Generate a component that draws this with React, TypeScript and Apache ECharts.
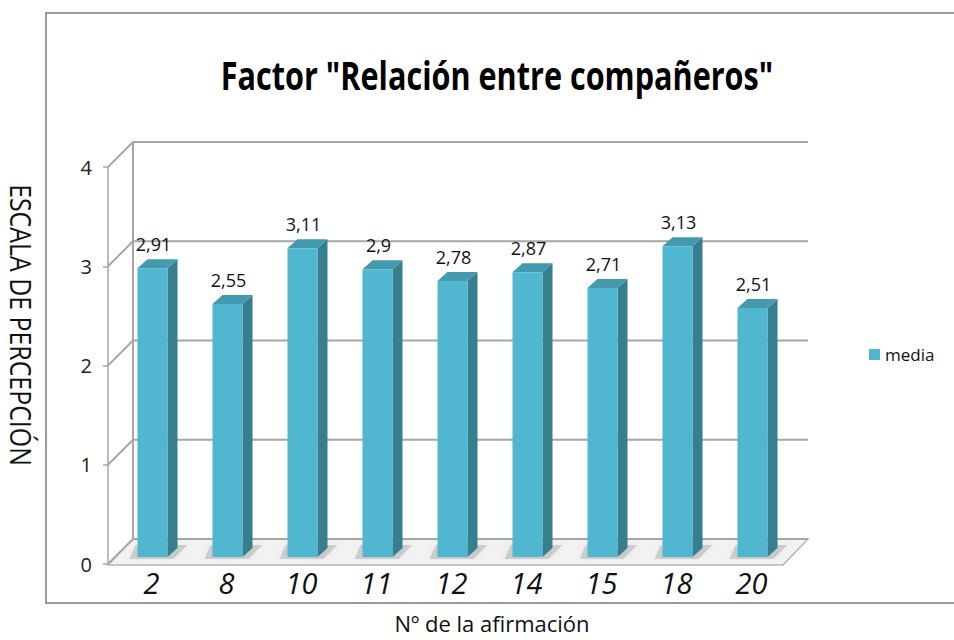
import React, { useEffect, useRef } from "react";
import * as echarts from "echarts";

const categories = ["2", "8", "10", "11", "12", "14", "15", "18", "20"];
const media = [2.91, 2.55, 3.11, 2.9, 2.78, 2.87, 2.71, 3.13, 2.51];
const yTicks = [0, 1, 2, 3, 4];
const seriesName = "media";
const titleText = 'Factor "Relación entre compañeros"';
const yName = "ESCALA DE PERCEPCIÓN";
const xName = "Nº de la afirmación";

const DEPTH = 25;
const BAR_OFF = 7;
const BAR_DEPTH = 10;
const GRID_COLOR = "#a6a6a6";
const FRONT = "#51b6cf";
const SIDE = "#367f8f";
const TOP = "#4399ae";

const fmt = (v: number) => String(v).replace(".", ",");

export default function App() {
  const ref = useRef<HTMLDivElement>(null);
  useEffect(() => {
    document.body.style.margin = "0";
    if (!ref.current) return;
    const chart = echarts.init(ref.current, undefined, { renderer: "svg" });
    const yMax = yTicks[yTicks.length - 1];

    const floorRender = (params: any, api: any) => {
      const cs = params.coordSys;
      const y0 = api.coord([0, 0])[1];
      const x0 = cs.x, x1 = cs.x + cs.width;
      return {
        type: "polygon",
        shape: { points: [[x0, y0 + 1], [x1, y0 + 1], [x1 + DEPTH, y0 - DEPTH], [x0 + DEPTH, y0 - DEPTH]] },
        style: { fill: "#f2f2f2", stroke: "#b5b5b5", lineWidth: 1.5 },
      };
    };

    const wallRender = (params: any, api: any) => {
      const cs = params.coordSys;
      const v = api.value(1);
      const y = api.coord([0, v])[1];
      const x0 = cs.x, x1 = cs.x + cs.width;
      const st = { stroke: GRID_COLOR, lineWidth: 2 };
      const children: any[] = [
        { type: "line", shape: { x1: x0, y1: y, x2: x0 + DEPTH, y2: y - DEPTH }, style: st },
        { type: "line", shape: { x1: x0 + DEPTH, y1: y - DEPTH, x2: x1 + DEPTH, y2: y - DEPTH }, style: st },
      ];
      if (v === 0) {
        const yTop = api.coord([0, yMax])[1];
        children.push({ type: "line", shape: { x1: x0 + DEPTH, y1: y - DEPTH, x2: x0 + DEPTH, y2: yTop - DEPTH }, style: st });
      }
      return { type: "group", children };
    };

    const barRender = (params: any, api: any) => {
      const i = api.value(0);
      const v = api.value(1);
      const [cx, yTop] = api.coord([i, v]);
      const yBase = api.coord([i, 0])[1];
      const band = api.size([1, 0])[0];
      const w = band * 0.4;
      const x = cx + BAR_OFF - w / 2;
      const yt = yTop - BAR_OFF;
      const yb = yBase - BAR_OFF;
      const d = BAR_DEPTH;
      const dy = BAR_DEPTH - 1;
      return {
        type: "group",
        children: [
          {
            type: "polygon",
            shape: { points: [[x - 8, yb + 2], [x + w + 6, yb + 2], [x + w + d + 10, yb - dy - 3], [x - 2, yb - dy - 3]] },
            style: { fill: "rgba(0,0,0,0.14)", shadowBlur: 8, shadowColor: "rgba(0,0,0,0.25)" },
          },
          {
            type: "polygon",
            shape: { points: [[x + w, yt], [x + w + d, yt - dy], [x + w + d, yb - dy], [x + w, yb]] },
            style: { fill: SIDE },
          },
          {
            type: "polygon",
            shape: { points: [[x, yt], [x + d, yt - dy], [x + w + d, yt - dy], [x + w, yt]] },
            style: { fill: TOP },
          },
          { type: "rect", shape: { x, y: yt, width: w, height: yb - yt }, style: { fill: FRONT } },
          {
            type: "text",
            x: x + w / 2 + 1,
            y: yt - dy - 6,
            style: {
              text: fmt(v),
              fontFamily: "Open Sans",
              fontSize: 18,
              fill: "#111",
              align: "center",
              verticalAlign: "bottom",
            },
          },
        ],
      };
    };

    chart.setOption({
      animation: false,
      backgroundColor: "#ffffff",
      grid: { left: 108, top: 167, width: 675, height: 397, containLabel: false },
      legend: {
        data: [{ name: seriesName, icon: "rect" }],
        left: 864,
        top: 341,
        itemWidth: 11,
        itemHeight: 11,
        itemGap: 6,
        textStyle: { fontFamily: "Open Sans", fontSize: 17, color: "#111" },
      },
      xAxis: {
        type: "category",
        data: categories,
        boundaryGap: true,
        axisLine: { show: false },
        axisTick: { show: false },
        splitLine: { show: false },
        axisLabel: {
          fontFamily: "Open Sans",
          fontStyle: "italic",
          fontSize: 29,
          color: "#111",
          margin: 4,
          padding: [0, 0, 0, 12],
        },
      },
      yAxis: {
        type: "value",
        min: 0,
        max: 4,
        interval: 1,
        axisLine: { show: true, lineStyle: { color: GRID_COLOR, width: 1.5 } },
        axisTick: { show: true, length: 5, lineStyle: { color: GRID_COLOR, width: 1.5 } },
        splitLine: { show: false },
        axisLabel: { fontFamily: "Open Sans", fontSize: 20, color: "#222", margin: 16 },
      },
      graphic: [
        {
          type: "rect",
          shape: { x: 46, y: 13, width: 960, height: 590 },
          style: { fill: "none", stroke: "#9a9a9a", lineWidth: 2 },
          z: 0,
        },
        {
          type: "text",
          x: 497,
          y: 75,
          scaleX: 0.785,
          style: {
            text: titleText,
            fontFamily: "Open Sans",
            fontWeight: "bold",
            fontSize: 39,
            fill: "#000",
            align: "center",
            verticalAlign: "middle",
          },
        },
        {
          type: "text",
          x: 21,
          y: 325,
          rotation: -Math.PI / 2,
          scaleX: 0.83,
          style: {
            text: yName,
            fontFamily: "Open Sans",
            fontSize: 30,
            fill: "#111",
            align: "center",
            verticalAlign: "middle",
          },
        },
        {
          type: "text",
          x: 492,
          y: 623,
          style: {
            text: xName,
            fontFamily: "Open Sans",
            fontSize: 22,
            lineHeight: 22,
            fill: "#111",
            align: "center",
            verticalAlign: "middle",
          },
        },
      ],
      series: [
        {
          type: "custom",
          name: "floor",
          renderItem: floorRender,
          data: [[0, 0]],
          encode: { x: 0, y: 1 },
          z: 1,
          silent: true,
        },
        {
          type: "custom",
          name: "walls",
          renderItem: wallRender,
          data: yTicks.map((v) => [0, v]),
          encode: { x: 0, y: 1 },
          z: 2,
          silent: true,
        },
        {
          type: "custom",
          name: seriesName,
          renderItem: barRender,
          data: media.map((v, i) => [i, v]),
          encode: { x: 0, y: 1 },
          itemStyle: { color: FRONT },
          z: 3,
        },
      ],
    });
    return () => chart.dispose();
  }, []);
  return <div ref={ref} style={{ width: 954, height: 640 }} />;
}
